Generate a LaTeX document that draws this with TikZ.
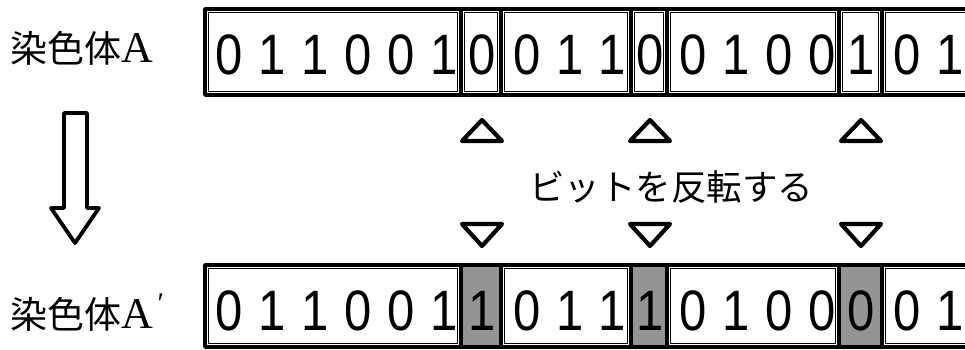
\documentclass[tikz,border=0pt]{standalone}
\usepackage{fontspec}
\setmainfont{Liberation Serif}
\newfontfamily\cjk{Noto Sans CJK JP}
\newfontfamily\digitfont{Liberation Sans}
\begin{document}
\begin{tikzpicture}[x=1pt,y=-1pt,
  thickline/.style={line width=3.8pt,line join=round,line cap=round},
  thinline/.style={line width=0.6pt},
  digit/.style={anchor=base,inner sep=0pt,font=\digitfont\fontsize{57}{57}\selectfont},
  label/.style={anchor=base west,inner sep=0pt,font=\fontsize{44}{44}\selectfont},
  shaded/.style={fill=black!42}]
\useasboundingbox (0,0) rectangle (965,350);
\clip (0,0) rectangle (965,350);
% ---- top row cells
\foreach \a/\b in {205/461,461/501,501/631,631/667,667/839,839/882,882/990}
  \draw[thinline] (\a+3.5,12.5) rectangle (\b-3.5,91.5);
\draw[thickline] (990,9) -- (205,9) -- (205,95) -- (990,95);
\foreach \a in {461,501,631,667,839,882}
  \draw[thickline] (\a,9) -- (\a,95);
% ---- bottom row cells
\foreach \a/\b in {461/501,631/667,839/882}
  \fill[shaded] (\a,265) rectangle (\b,347);
\foreach \a/\b in {205/461,501/631,667/839,882/990}
  \draw[thinline] (\a+3.5,268.5) rectangle (\b-3.5,343.5);
\draw[thickline] (990,265) -- (205,265) -- (205,347) -- (990,347);
\foreach \a in {461,501,631,667,839,882}
  \draw[thickline] (\a,265) -- (\a,347);
% ---- digits
\foreach \x/\d [count=\i] in {229/0,272/1,315/1,358/0,401/0,444/1,482/0,527/0,570/1,612/1,650/0,693/0,736/1,779/0,822/0,861/1,907/0,950/1}
  \node[digit] (t\i) at (\x,75) {\scalebox{0.86}[1]{\d}};
\foreach \x/\d [count=\i] in {229/0,272/1,315/1,358/0,401/0,444/1,482/1,527/0,570/1,612/1,650/1,693/0,736/1,779/0,822/0,861/0,907/0,950/1}
  \node[digit] (b\i) at (\x,330) {\scalebox{0.86}[1]{\d}};
% ---- labels
\node[label] (la) at (10,63) {{\cjk\fontsize{37}{37}\selectfont 染色体}A};
\node[label] (lb) at (10,328) {{\cjk\fontsize{37}{37}\selectfont 染色体}A};
\node[inner sep=0pt,font=\fontsize{30}{30}\selectfont] (pr) at (161,304) {′};
\node[label,font=\cjk\fontsize{35.5}{35.5}\selectfont] (msg) at (529,200) {ビットを反転する};
% ---- block arrow
\draw[thickline] (64,113) -- (87,113) -- (87,208) -- (99,208) -- (75,243) -- (51,208) -- (64,208) -- cycle;
% ---- triangles
\foreach \c [count=\i] in {482,650,861}{
  \draw[thickline,line width=4.2pt,fill=white] (\c-20,141) -- (\c+20,141) -- (\c,120) -- cycle;
  \draw[thickline,line width=4.2pt,fill=white] (\c-20,224) -- (\c+20,224) -- (\c,246) -- cycle;
}
\end{tikzpicture}
\end{document}
